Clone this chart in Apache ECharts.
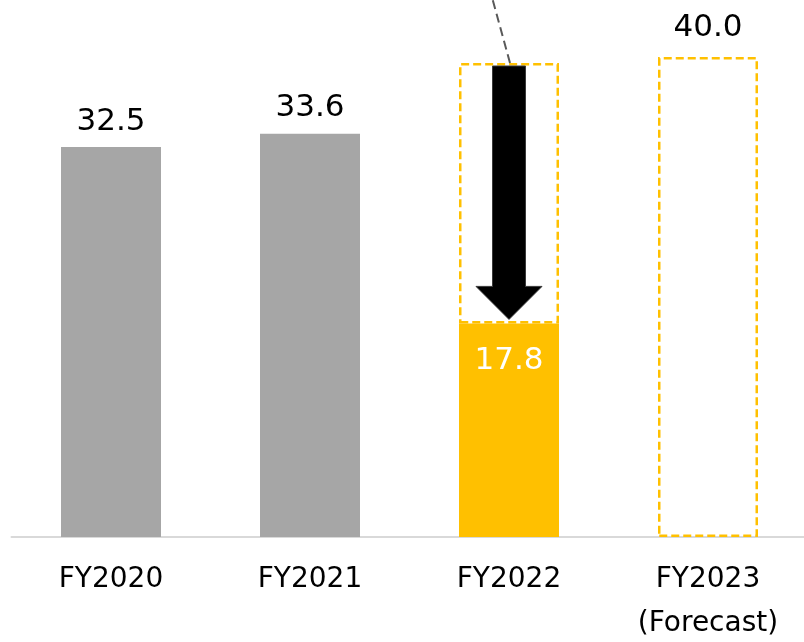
<!DOCTYPE html>
<html>
<head>
<meta charset="utf-8">
<script src="https://cdn.jsdelivr.net/npm/echarts@6/dist/echarts.min.js"></script>
<style>
  html, body { margin: 0; padding: 0; background: #ffffff; }
  #chart { width: 804px; height: 642px; }
</style>
</head>
<body>
<div id="chart"></div>
<script>
// Fiscal years shown on the category axis
const categories = ['FY2020', 'FY2021', 'FY2022', 'FY2023\n(Forecast)'];
// Actual results ('-' = not yet available)
const actual = [32.5, 33.6, 17.8, '-'];
// Planned / forecast level drawn as a dashed outline
const planned = ['-', '-', 39.5, 40.0];

const GRAY = '#a6a6a6';
const GOLD = '#ffc000';
const FONT = 'DejaVu Sans';

// Outline height stacked on top of the actual bar
const planGap = planned.map((p, i) => {
  if (p === '-') return '-';
  const a = actual[i] === '-' ? 0 : actual[i];
  return +(p - a).toFixed(1);
});

const actualData = actual.map((v, i) => {
  if (v === '-') return '-';
  const isCurrent = i === 2;
  return {
    value: v,
    itemStyle: { color: isCurrent ? GOLD : GRAY },
    label: isCurrent
      ? { show: true, position: 'insideTop', distance: 22, color: '#ffffff' }
      : { show: true, position: 'top', distance: 10, color: '#000000' }
  };
});

const planData = planGap.map((v, i) => {
  if (v === '-') return '-';
  return {
    value: v,
    label: { show: actual[i] === '-' }
  };
});

// Index of the year with the drop arrow
const dropIndex = 2;

const chart = echarts.init(document.getElementById('chart'), null, { renderer: 'canvas' });

chart.setOption({
  animation: false,
  backgroundColor: '#ffffff',
  grid: {
    left: 11.5, top: 9, width: 796, bottom: 105,
    containLabel: false,
    outerBoundsMode: 'none'
  },
  xAxis: {
    type: 'category',
    data: categories,
    axisLine: { show: true, lineStyle: { color: '#d9d9d9', width: 2 } },
    axisTick: { show: false },
    axisLabel: {
      color: '#000000',
      fontFamily: FONT,
      fontSize: 28,
      lineHeight: 44,
      margin: 21,
      interval: 0
    }
  },
  yAxis: {
    type: 'value',
    min: 0,
    max: 44,
    show: false,
    splitLine: { show: false }
  },
  series: [
    {
      name: 'Actual',
      type: 'bar',
      stack: 'total',
      barWidth: 100,
      data: actualData,
      label: {
        fontFamily: FONT,
        fontSize: 31,
        formatter: p => Number(p.value).toFixed(1)
      },
      z: 2
    },
    {
      name: 'Plan',
      type: 'bar',
      stack: 'total',
      barWidth: 100,
      data: planData,
      itemStyle: {
        color: 'rgba(255,255,255,0)',
        borderColor: GOLD,
        borderWidth: 2.5,
        borderType: [8, 4]
      },
      label: {
        position: 'top',
        distance: 14,
        color: '#000000',
        fontFamily: FONT,
        fontSize: 31,
        formatter: p => Number(planned[p.dataIndex]).toFixed(1)
      },
      z: 3
    },
    {
      name: 'Drop',
      type: 'custom',
      data: [[dropIndex, planned[dropIndex], actual[dropIndex]]],
      z: 5,
      renderItem: function (params, api) {
        const top = api.coord([api.value(0), api.value(1)]);
        const bottom = api.coord([api.value(0), api.value(2)]);
        const cx = top[0];
        const yTop = top[1] + 3;
        const yTip = bottom[1] - 4;
        const shaft = 16.5, head = 33, headH = 33;
        const yHead = yTip - headH;
        // leader line rising from the top of the outline
        const x0 = cx + 1, y0 = top[1];
        const slope = 17 / 62;
        return {
          type: 'group',
          children: [
            {
              type: 'line',
              shape: { x1: x0, y1: y0, x2: x0 - slope * y0, y2: 0 },
              style: { stroke: '#595959', lineWidth: 2, lineDash: [9, 5] }
            },
            {
              type: 'polygon',
              shape: {
                points: [
                  [cx - shaft, yTop], [cx + shaft, yTop], [cx + shaft, yHead],
                  [cx + head, yHead], [cx, yTip], [cx - head, yHead], [cx - shaft, yHead]
                ]
              },
              style: { fill: '#000000', stroke: '#3a3a3a', lineWidth: 1 }
            }
          ]
        };
      }
    }
  ]
});
</script>
</body>
</html>
